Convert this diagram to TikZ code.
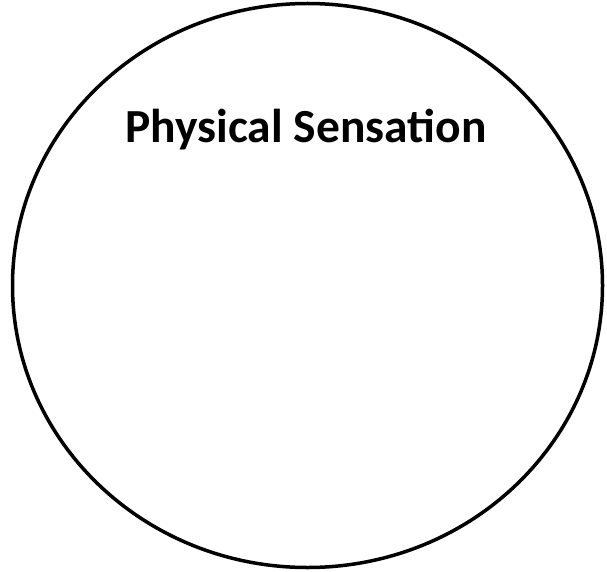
\documentclass[tikz,border=0pt]{standalone}
\usepackage{fontspec}
\setmainfont{Carlito}
\usetikzlibrary{shapes.geometric}

\begin{document}
\begin{tikzpicture}[
      x=1pt, y=-1pt,
      sense/.style={draw, ellipse, line width=3.5pt, minimum width=590pt, minimum height=564pt, inner sep=0pt},
      title/.style={font=\bfseries\fontsize{47.5}{54}\selectfont, inner sep=0pt}
  ]
    \useasboundingbox (0,0) rectangle (607,572);
    \node[sense] (circle) at (307.5,285.5) {};
    \node[title] (label) at (306,130) {Physical Sensation};
  \end{tikzpicture}
\end{document}
